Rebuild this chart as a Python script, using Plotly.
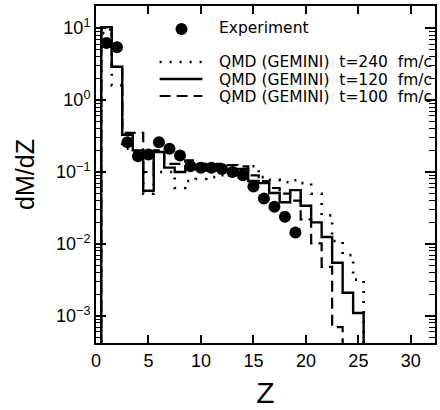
import plotly.graph_objects as go

# ---------------- data ----------------
Z_exp = [1, 2, 3, 4, 5, 6, 7, 8, 9, 10, 11, 12, 13, 14, 15, 16, 17, 18, 19]
dMdZ_exp = [6.2, 5.4, 0.26, 0.165, 0.175, 0.26, 0.21, 0.17, 0.12, 0.115, 0.115,
             0.11, 0.10, 0.09, 0.063, 0.043, 0.033, 0.024, 0.0145]

Z_240 = list(range(1, 26))
qmd_240 = [8.5, 1.6, 0.21, 0.19, 0.05, 0.1, 0.1, 0.06, 0.075, 0.08, 0.085, 0.09,
           0.1, 0.11, 0.12, 0.085, 0.078, 0.072, 0.077, 0.07, 0.05, 0.025, 0.011,
           0.007, 0.0032]

Z_120 = list(range(1, 26))
qmd_120 = [10.3, 2.9, 0.33, 0.2, 0.055, 0.19, 0.115, 0.10, 0.12, 0.11, 0.105, 0.11,
           0.105, 0.11, 0.075, 0.07, 0.051, 0.038, 0.056, 0.034, 0.02, 0.0125,
           0.0055, 0.0021, 0.0011]

Z_100 = list(range(1, 24))
qmd_100 = [9.5, 2.9, 0.35, 0.35, 0.10, 0.2, 0.13, 0.13, 0.145, 0.13, 0.125, 0.13,
           0.125, 0.12, 0.09, 0.075, 0.06, 0.05, 0.04, 0.022, 0.0102, 0.0048, 0.0007]

y_tickvals = [1e-3, 1e-2, 1e-1, 1e0, 1e1]
y_ticktext = ["10<sup>−3</sup>", "10<sup>−2</sup>", "10<sup>−1</sup>",
              "10<sup>0</sup>", "10<sup>1</sup>"]
x_tickvals = [0, 5, 10, 15, 20, 25, 30]

legend_labels = ["Experiment",
                 "QMD (GEMINI)  t=240  fm/c",
                 "QMD (GEMINI)  t=120  fm/c",
                 "QMD (GEMINI)  t=100  fm/c"]

FLOOR = 1e-6


def steps(zs, vals):
    xs = [zs[0] - 0.5]
    ys = [FLOOR]
    for z, v in zip(zs, vals):
        xs.append(z - 0.5)
        ys.append(v)
    xs.append(zs[-1] + 0.5)
    ys.append(FLOOR)
    return xs, ys


fig = go.Figure()

for zs, vals, dash, w in [(Z_240, qmd_240, "2px,8px", 2.6),
                          (Z_120, qmd_120, "solid", 2.4),
                          (Z_100, qmd_100, "11px,6px", 2.2)]:
    xs, ys = steps(zs, vals)
    fig.add_trace(go.Scatter(x=xs, y=ys, mode="lines", line_shape="hv",
                             line=dict(color="black", width=w, dash=dash),
                             showlegend=False, hoverinfo="skip"))

fig.add_trace(go.Scatter(x=Z_exp, y=dMdZ_exp, mode="markers",
                         marker=dict(color="black", size=12, symbol="circle"),
                         showlegend=False))

# ---------------- layout ----------------
L, R, T, B = 96, 3, 6, 67
W, H = 440, 410
pw, ph = W - L - R, H - T - B


def px(xpix):
    return (xpix - L) / pw


def py(ypix):
    return (H - B - ypix) / ph


font_tick = dict(family="Liberation Sans", size=18, color="black")

fig.update_layout(
    width=W, height=H,
    margin=dict(l=L, r=R, t=T, b=B, pad=0),
    paper_bgcolor="white", plot_bgcolor="white",
    showlegend=False,
    xaxis=dict(range=[0, 32.3], tickmode="array", tickvals=x_tickvals,
               ticks="inside", ticklen=8, tickwidth=1.5, tickcolor="black",
               showline=True, linecolor="black", linewidth=2, mirror="allticks",
               showgrid=False, zeroline=False,
               tickfont=dict(family="Liberation Sans", size=18, color="black"),
               title=dict(text="Z", font=dict(family="Liberation Sans", size=30, color="black"),
                          standoff=12)),
    yaxis=dict(type="log", range=[-3.375, 1.306], tickmode="array",
               tickvals=y_tickvals, ticktext=y_ticktext,
               ticks="inside", ticklen=10, tickwidth=1.5, tickcolor="black",
               showline=True, linecolor="black", linewidth=2, mirror="allticks",
               showgrid=False, zeroline=False, tickfont=font_tick,
               minor=dict(ticks="inside", ticklen=6, tickwidth=1.2, tickcolor="black",
                          dtick="D1", showgrid=False),
               title=dict(text="dM/dZ", font=dict(family="Liberation Sans", size=25, color="black"),
                          standoff=14)),
)

# legend drawn manually
legend_y = [28, 62, 80, 97]
text_x = 218
for lab, yy in zip(legend_labels, legend_y):
    fig.add_annotation(xref="paper", yref="paper", x=px(text_x), y=py(yy),
                       xanchor="left", yanchor="middle", showarrow=False,
                       text=lab, font=dict(family="DejaVu Sans", size=15.5, color="black"))

fig.add_shape(type="circle", xref="paper", yref="paper",
              xsizemode="pixel", ysizemode="pixel",
              xanchor=px(182), yanchor=py(29), x0=-6, x1=6, y0=-6, y1=6,
              fillcolor="black", line=dict(color="black", width=0))
for yy, dash, w in [(62, "2px,8px", 2.6), (79, "solid", 2.4), (96, "11px,6px", 2.2)]:
    fig.add_shape(type="line", xref="paper", yref="paper",
                  x0=px(160), x1=px(203), y0=py(yy), y1=py(yy),
                  line=dict(color="black", width=w, dash=dash))

fig.write_html("out.html")
